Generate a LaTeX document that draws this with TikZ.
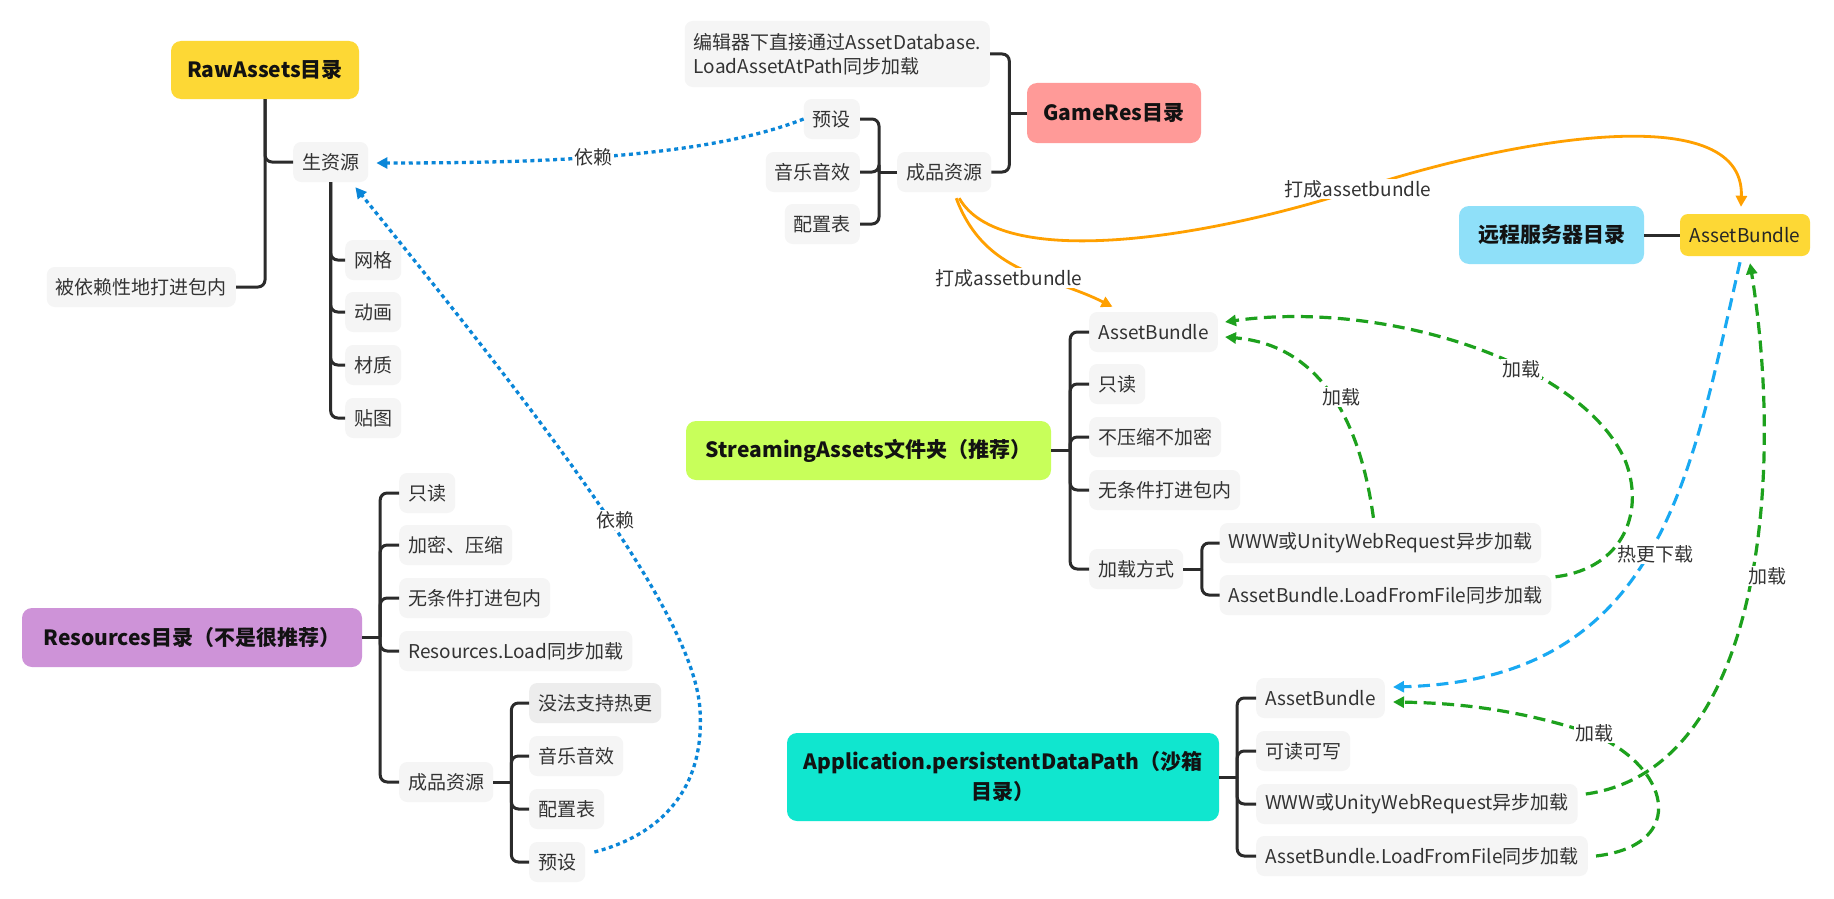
\documentclass[tikz,border=0pt]{standalone}
\usepackage{fontspec}
\setmainfont{Noto Sans CJK SC}
\usetikzlibrary{arrows.meta,calc}
\definecolor{leafbg}{HTML}{F5F5F5}
\definecolor{leafbgb}{HTML}{EDEDED}
\definecolor{leaftxt}{HTML}{333333}
\definecolor{connc}{HTML}{2B2B2B}
\definecolor{cyellow}{HTML}{FDD835}
\definecolor{cpink}{HTML}{FF9A98}
\definecolor{csky}{HTML}{8FE0F9}
\definecolor{clime}{HTML}{C8FF5A}
\definecolor{clav}{HTML}{CE93D8}
\definecolor{cteal}{HTML}{10E6CF}
\definecolor{dotblue}{HTML}{0A86D8}
\definecolor{dashblue}{HTML}{19A9F2}
\definecolor{corange}{HTML}{FFA000}
\definecolor{cgreen}{HTML}{1DA11D}
\newcommand{\leaffont}{\fontsize{19}{24}\selectfont}
\newcommand{\titlefont}{\fontsize{21}{30}\selectfont\bfseries}
\tikzset{
  leaf/.style={fill=leafbg, rounded corners=8pt, inner xsep=9pt, inner ysep=0pt, minimum height=40pt, text=leaftxt, font=\leaffont},
  title/.style={rounded corners=10pt, inner xsep=10pt, inner ysep=0pt, text=black!93, font=\titlefont},
  conn/.style={draw=connc, line width=3pt, rounded corners=7pt},
  lbl/.style={fill=white, text=leaftxt, font=\leaffont, inner sep=1.5pt},
  dep/.style={draw=dotblue, line width=3.3pt, dash pattern=on 4pt off 3.6pt, -{Triangle[length=11pt,width=11pt]}},
  hot/.style={draw=dashblue, line width=3.1pt, dash pattern=on 12pt off 6.5pt, -{Triangle[length=11pt,width=11pt]}},
  loadarr/.style={draw=cgreen, line width=3.2pt, dash pattern=on 12pt off 6.5pt, -{Triangle[length=11pt,width=11pt]}},
  pack/.style={draw=corange, line width=2.8pt, -{Triangle[length=11pt,width=11pt]}}
}
\begin{document}
\begin{tikzpicture}[x=1pt,y=-1pt]
\fill[white] (0,0) rectangle (1834,899);
\useasboundingbox (0,0) rectangle (1834,899);

% ---------- title nodes ----------
\node[title, fill=cyellow, minimum width=188pt, minimum height=58pt] (raw) at (265,70) {RawAssets目录};
\node[title, fill=cpink, minimum width=174pt, minimum height=60pt] (game) at (1114,113) {GameRes目录};
\node[title, fill=csky, minimum width=185pt, minimum height=58pt] (remote) at (1551.5,235) {远程服务器目录};
\node[title, fill=clime, minimum width=365pt, minimum height=59pt] (stream) at (868.5,450.5) {StreamingAssets文件夹（推荐）};
\node[title, fill=clav, minimum width=340pt, minimum height=59pt] (res) at (192,637.5) {Resources目录（不是很推荐）};
\node[title, fill=cteal, minimum width=432pt, minimum height=88pt, align=center] (app) at (1003,777) {Application.persistentDataPath（沙箱\\目录）};
\node[leaf, fill=cyellow, text=black!85, minimum width=130pt, minimum height=42pt] (rab) at (1745,235) {AssetBundle};

% ---------- RawAssets ----------
\node[leaf, anchor=west] (sheng) at (293,162) {生资源};
\node[leaf, anchor=east] (beiyi) at (236,287) {被依赖性地打进包内};
\node[leaf, anchor=west] (wg) at (345,260) {网格};
\node[leaf, anchor=west] (dh) at (345,312) {动画};
\node[leaf, anchor=west] (cz) at (345,365) {材质};
\node[leaf, anchor=west] (tt) at (345,418) {贴图};

% ---------- GameRes ----------
\node[leaf, anchor=east, align=left, minimum height=66pt] (editor) at (990,54) {编辑器下直接通过AssetDatabase.\\LoadAssetAtPath同步加载};
\node[leaf, anchor=west] (cpa) at (897,172) {成品资源};
\node[leaf, anchor=east] (ysa) at (860,119) {预设};
\node[leaf, anchor=east] (yya) at (860,172) {音乐音效};
\node[leaf, anchor=east] (pza) at (860,224) {配置表};

% ---------- Streaming ----------
\node[leaf, anchor=west] (sab) at (1089,332) {AssetBundle};
\node[leaf, anchor=west] (szd) at (1089,384) {只读};
\node[leaf, anchor=west] (sbys) at (1089,437) {不压缩不加密};
\node[leaf, anchor=west] (swt) at (1089,490) {无条件打进包内};
\node[leaf, anchor=west] (sjz) at (1089,569) {加载方式};
\node[leaf, anchor=west] (swww) at (1219.5,543) {WWW或UnityWebRequest异步加载};
\node[leaf, anchor=west] (sld) at (1219.5,595) {AssetBundle.LoadFromFile同步加载};

% ---------- Resources ----------
\node[leaf, anchor=west] (rzd) at (399,493) {只读};
\node[leaf, anchor=west] (rjm) at (399,545) {加密、压缩};
\node[leaf, anchor=west] (rwt) at (399,598) {无条件打进包内};
\node[leaf, anchor=west] (rload) at (399,651) {Resources.Load同步加载};
\node[leaf, anchor=west] (rcp) at (399,782) {成品资源};
\node[leaf, anchor=west, fill=leafbgb] (rmf) at (529,703) {没法支持热更};
\node[leaf, anchor=west] (ryy) at (529,756) {音乐音效};
\node[leaf, anchor=west] (rpz) at (529,809) {配置表};
\node[leaf, anchor=west] (rys) at (529,862) {预设};

% ---------- Application ----------
\node[leaf, anchor=west] (aab) at (1256,698) {AssetBundle};
\node[leaf, anchor=west] (akd) at (1256,751) {可读可写};
\node[leaf, anchor=west] (awww) at (1256,804) {WWW或UnityWebRequest异步加载};
\node[leaf, anchor=west] (ald) at (1256,856) {AssetBundle.LoadFromFile同步加载};

% ---------- tree connectors ----------
\draw[conn] (raw.south) |- (sheng.west);
\draw[conn] (raw.south) |- (beiyi.east);
\foreach \c in {wg,dh,cz,tt} \draw[conn] (sheng.south) |- (\c.west);

\draw[conn] (game.west) -- ++(-17.5,0) coordinate (gj);
\draw[conn] (gj) |- (editor.east);
\draw[conn] (gj) |- (cpa.east);
\draw[conn] (cpa.west) -- ++(-18,0) coordinate (cj);
\foreach \c in {ysa,yya,pza} \draw[conn] (cj) |- (\c.east);

\draw[conn] (stream.east) -- ++(19,0) coordinate (sj);
\foreach \c in {sab,szd,sbys,swt,sjz} \draw[conn] (sj) |- (\c.west);
\draw[conn] (sjz.east) -- ++(18.5,0) coordinate (sjj);
\foreach \c in {swww,sld} \draw[conn] (sjj) |- (\c.west);

\draw[conn] (res.east) -- ++(18,0) coordinate (rj);
\foreach \c in {rzd,rjm,rwt,rload,rcp} \draw[conn] (rj) |- (\c.west);
\draw[conn] (rcp.east) -- ++(18,0) coordinate (rcj);
\foreach \c in {rmf,ryy,rpz,rys} \draw[conn] (rcj) |- (\c.west);

\draw[conn] (app.east) -- ++(18,0) coordinate (aj);
\foreach \c in {aab,akd,awww,ald} \draw[conn] (aj) |- (\c.west);

\draw[conn] (remote.east) -- (rab.west);

% ---------- relations ----------
\draw[dep] (ysa.west) .. controls (700,160) and (520,163) .. ($(sheng.east)+(8,1)$);
\draw[dep] ($(rys.east)+(9,-10)$) .. controls (660,835) and (705,790) .. (700,710)
  .. controls (695,620) and (560,440) .. ($(sheng.south east)+(-13,5)$);

\draw[pack] ($(cpa.south)+(12,6)$) .. controls (985,275) and (1050,275) .. ($(sab.north)+(-41,-5)$);
\draw[pack] ($(cpa.south)+(15,6)$) .. controls (1000,270) and (1200,240) .. (1356,190)
  .. controls (1500,142) and (1745,95) .. ($(rab.north)+(-4,-7)$);

\draw[loadarr] ($(sld.north east)+(4,2)$) .. controls (1625,568) and (1645,510) .. (1625,460)
  .. controls (1580,360) and (1380,300) .. ($(sab.east)+(7,-10)$);
\draw[loadarr] ($(swww.north)+(-7,-5)$) .. controls (1360,420) and (1320,345) .. ($(sab.east)+(7,5)$);

\draw[hot] ($(rab.south)+(-5,6)$) .. controls (1690,480) and (1660,680) .. ($(aab.east)+(8,-11)$);
\draw[loadarr] ($(awww.east)+(8,-10)$) .. controls (1760,770) and (1785,480) .. ($(rab.south)+(5,7)$);
\draw[loadarr] ($(ald.east)+(8,0)$) .. controls (1690,845) and (1670,765) .. (1590,733)
  .. controls (1520,710) and (1460,703) .. ($(aab.east)+(8,4)$);

% ---------- labels ----------
\node[lbl] (l1) at (593,157) {依赖};
\node[lbl] (l2) at (615,520) {依赖};
\node[lbl] (l3) at (1009,278) {打成assetbundle};
\node[lbl] (l4) at (1358,189) {打成assetbundle};
\node[lbl] (l5) at (1521,369) {加载};
\node[lbl] (l6) at (1341,397) {加载};
\node[lbl] (l7) at (1655,554) {热更下载};
\node[lbl] (l8) at (1767,576) {加载};
\node[lbl] (l9) at (1594,733) {加载};
\end{tikzpicture}
\end{document}
